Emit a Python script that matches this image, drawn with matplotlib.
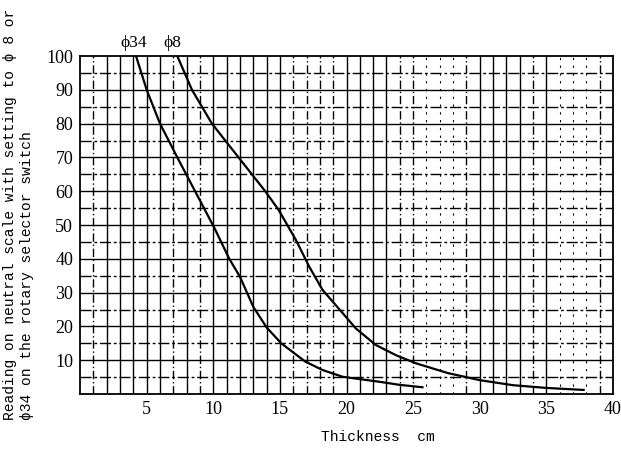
import matplotlib
matplotlib.use("Agg")
import matplotlib.pyplot as plt

# curve readings (thickness cm, neutral scale reading)
phi34_x = [4.2, 5.0, 6.0, 7.3, 8.7, 10.1, 11.2, 12.0, 13.0, 14.0, 15.1, 16.9, 18.2, 19.7, 22.5, 24.0, 25.7]
phi34_y = [100, 90, 80, 70, 59.5, 49, 40, 34.7, 25.8, 19.7, 15.0, 9.6, 7.1, 5.1, 3.6, 2.7, 2.0]

phi8_x = [7.3, 8.4, 9.9, 11.9, 13.9, 14.9, 16.2, 17.2, 18.2, 19.5, 20.7, 22.2, 23.7, 25.2, 27.6, 30.0, 32.5, 35.0, 37.8]
phi8_y = [100, 90, 80, 70, 60, 54.5, 45.6, 37.7, 30.8, 24.9, 19.4, 14.5, 11.5, 9.1, 6.2, 4.1, 2.6, 1.8, 1.2]

xticks = [5, 10, 15, 20, 25, 30, 35, 40]
yticks = [10, 20, 30, 40, 50, 60, 70, 80, 90, 100]

# which vertical grid lines look solid / dashed / faint on the scan
vgrid = {1: 'd', 2: 's', 3: 's', 4: 's', 5: 's', 6: 's', 7: 'd', 8: 's', 9: 'd',
         10: 's', 11: 's', 12: 's', 13: 's', 14: 's', 15: 's', 16: 'd', 17: 'd',
         18: 'd', 19: 'd', 20: 's', 21: 's', 22: 's', 23: 's', 24: 'd', 25: 'd',
         26: 'f', 27: 'f', 28: 'f', 29: 'd', 30: 's', 31: 's', 32: 's', 33: 's',
         34: 'd', 35: 's', 36: 'f', 37: 'f', 38: 'f', 39: 'd'}

serif = ['Liberation Serif', 'DejaVu Serif']
mono = ['Liberation Mono', 'DejaVu Sans Mono']

fig = plt.figure(figsize=(6.21, 4.49), dpi=100)
ax = fig.add_axes([0.129, 0.1225, 0.858, 0.7525])

# grid
for xv, st in vgrid.items():
    if st == 's':
        ax.axvline(xv, color='black', lw=1.0, zorder=1)
    elif st == 'd':
        ax.axvline(xv, color='black', lw=1.0, ls=(0, (6, 2, 1, 2)), zorder=1)
    else:
        ax.axvline(xv, color='black', lw=0.8, ls=(0, (2, 5)), zorder=1)
for yv in range(5, 100, 5):
    if yv % 10 == 0:
        ax.axhline(yv, color='black', lw=1.0, zorder=1)
    else:
        ax.axhline(yv, color='black', lw=1.0, ls=(0, (8, 2, 2, 2)), zorder=1)

ax.plot(phi34_x, phi34_y, color='black', lw=1.6, zorder=3)
ax.plot(phi8_x, phi8_y, color='black', lw=1.6, zorder=3)

ax.set_xlim(0, 40)
ax.set_ylim(0, 100)
ax.set_xticks(xticks)
ax.set_yticks(yticks)
ax.tick_params(length=0, pad=5)
for lab in ax.get_xticklabels() + ax.get_yticklabels():
    lab.set_family(serif)
    lab.set_fontsize(13)
for sp in ax.spines.values():
    sp.set_linewidth(1.3)

ax.text(phi34_x[0] - 0.2, 101.5, 'ϕ34', family=serif, fontsize=12.5, ha='center', va='bottom')
ax.text(phi8_x[0] - 0.4, 101.5, 'ϕ8', family=serif, fontsize=12.5, ha='center', va='bottom')

fig.text(0.609, 0.027, 'Thickness  cm', family=mono, fontsize=10.5, ha='center', va='center')
fig.text(0.005, 0.065,
         'Reading on neutral scale with setting to ϕ 8 or\nϕ34 on the rotary selector switch',
         family=mono, fontsize=10.5, rotation=90, ha='left', va='bottom',
         multialignment='left', linespacing=1.3)

fig.savefig('out.png', dpi=100)
